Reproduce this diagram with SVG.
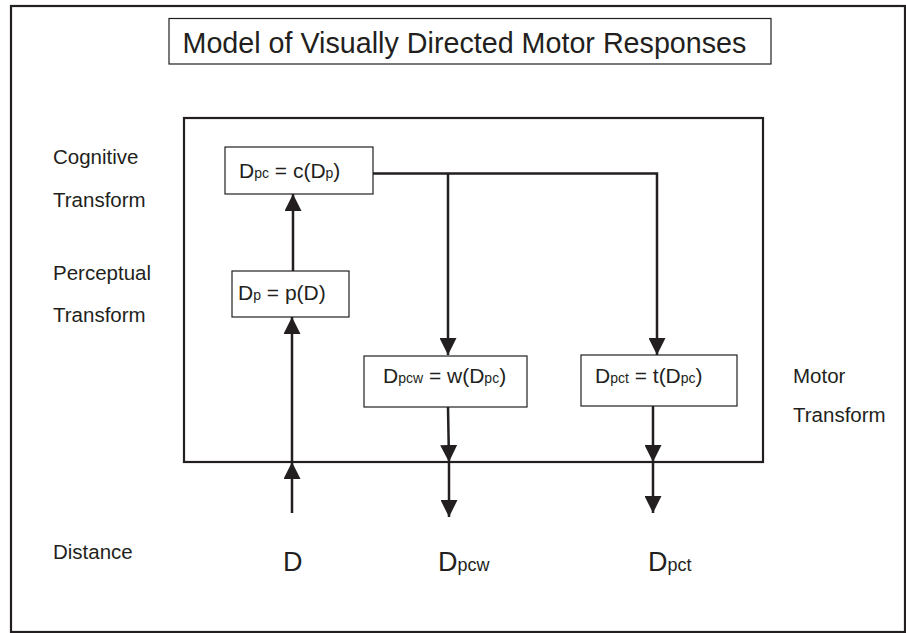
<svg xmlns="http://www.w3.org/2000/svg" width="906" height="633" viewBox="0 0 906 633">
<defs>
<marker id="ah" markerUnits="userSpaceOnUse" markerWidth="17" markerHeight="17" refX="17" refY="8.5" orient="auto">
<path d="M0,0 L17,8.5 L0,17 z" fill="#231f20"/>
</marker>
<style>
text{font-family:"Liberation Sans",Arial,sans-serif;fill:#231f20}
.lbl{font-size:20.5px}
.nt{font-size:21px}
.sb{font-size:14px}
.big{font-size:27px}
.bsb{font-size:18px}
.box{fill:#fff;stroke:#231f20;stroke-width:1.2}
.conn{fill:none;stroke:#231f20;stroke-width:2.5;marker-end:url(#ah)}
.plain{fill:none;stroke:#231f20;stroke-width:2.5}
</style>
</defs>
<rect x="0" y="0" width="906" height="633" fill="#fff"/>
<rect id="frame" x="11" y="6" width="894" height="626" fill="none" stroke="#231f20" stroke-width="2.2"/>
<g id="title">
<rect class="box" x="169" y="18.5" width="602" height="45.5"/>
<text x="182.5" y="53" style="font-size:28.7px">Model of Visually Directed Motor Responses</text>
</g>
<rect id="model" x="184" y="118" width="579" height="344" fill="none" stroke="#231f20" stroke-width="2.2"/>
<g id="labels">
<text class="lbl" x="53" y="164">Cognitive</text>
<text class="lbl" x="53" y="207">Transform</text>
<text class="lbl" x="53" y="280">Perceptual</text>
<text class="lbl" x="53" y="322">Transform</text>
<text class="lbl" x="793" y="383">Motor</text>
<text class="lbl" x="793" y="422">Transform</text>
<text class="lbl" x="53" y="559">Distance</text>
</g>
<g id="connectors">
<line class="conn" x1="292" y1="513" x2="292" y2="462"/>
<line class="conn" x1="292" y1="462" x2="292" y2="317"/>
<line class="conn" x1="293" y1="271" x2="293" y2="194"/>
<line class="conn" x1="448" y1="173.5" x2="448" y2="355"/>
<path class="conn" d="M373,173.5 H657 V355"/>
<line class="conn" x1="448" y1="407" x2="449" y2="462"/>
<line class="conn" x1="449" y1="462" x2="449" y2="517"/>
<line class="conn" x1="653" y1="406" x2="653" y2="462"/>
<line class="conn" x1="653" y1="462" x2="653" y2="513"/>
</g>
<g id="node-cognitive">
<rect class="box" x="225" y="147" width="148" height="47"/>
<text class="nt" x="239" y="178">D<tspan class="sb">pc</tspan> = c(D<tspan class="sb">p</tspan>)</text>
</g>
<g id="node-perceptual">
<rect class="box" x="232" y="271" width="117" height="46"/>
<text class="nt" x="238" y="300">D<tspan class="sb">p</tspan> = p(D)</text>
</g>
<g id="node-w">
<rect class="box" x="364" y="356" width="163" height="51"/>
<text class="nt" x="383" y="383">D<tspan class="sb">pcw</tspan> = w(D<tspan class="sb">pc</tspan>)</text>
</g>
<g id="node-t">
<rect class="box" x="581" y="355" width="156" height="51"/>
<text class="nt" x="595" y="383">D<tspan class="sb">pct</tspan> = t(D<tspan class="sb">pc</tspan>)</text>
</g>
<g id="outputs">
<text class="big" x="283" y="571">D</text>
<text class="big" x="438" y="571">D<tspan class="bsb">pcw</tspan></text>
<text class="big" x="648" y="571">D<tspan class="bsb">pct</tspan></text>
</g>
</svg>
